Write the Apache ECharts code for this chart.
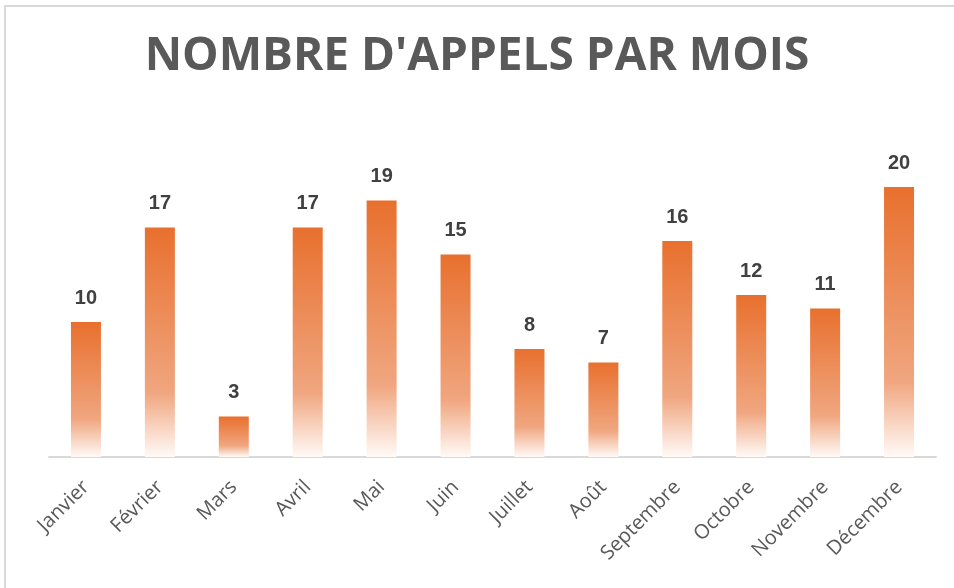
<!DOCTYPE html>
<html><head><meta charset="utf-8">
<script src="https://cdn.jsdelivr.net/npm/echarts@6/dist/echarts.min.js"></script>
<style>html,body{margin:0;padding:0;background:#fff}#c{width:954px;height:588px}</style>
</head><body><div id="c"></div>
<script>
const titleText = "NOMBRE D'APPELS PAR MOIS";
const months = ["Janvier","Février","Mars","Avril","Mai","Juin","Juillet","Août","Septembre","Octobre","Novembre","Décembre"];
const calls = [10,17,3,17,19,15,8,7,16,12,11,20];

const chart = echarts.init(document.getElementById('c'));
chart.setOption({
  animation:false,
  backgroundColor:'#ffffff',
  graphic:[{type:'rect',shape:{x:5,y:6,width:1100,height:1100},style:{fill:'none',stroke:'#d9d9d9',lineWidth:2},silent:true}],
  title:{text:titleText,left:'center',top:29,
    textStyle:{fontFamily:'Open Sans',fontWeight:'bold',fontSize:46,color:'#595959'}},
  grid:{left:49,right:18,top:160,bottom:131,containLabel:false},
  xAxis:{type:'category',data:months,
    axisLine:{lineStyle:{color:'#d9d9d9',width:2}},
    axisTick:{show:false},
    axisLabel:{rotate:45,interval:0,margin:27,fontFamily:'Open Sans',fontSize:20,color:'#595959'}},
  yAxis:{type:'value',min:0,max:22,show:false,splitLine:{show:false}},
  series:[{type:'bar',data:calls,barWidth:30,
    itemStyle:{color:new echarts.graphic.LinearGradient(0,0,0,1,[
      {offset:0,color:'#E8702E'},{offset:0.72,color:'#F0A67F'},{offset:1,color:'#FFFAF7'}])},
    label:{show:true,position:'top',distance:14,fontFamily:'Liberation Sans',fontWeight:'bold',fontSize:20,color:'#404040'}}]
});
</script></body></html>
